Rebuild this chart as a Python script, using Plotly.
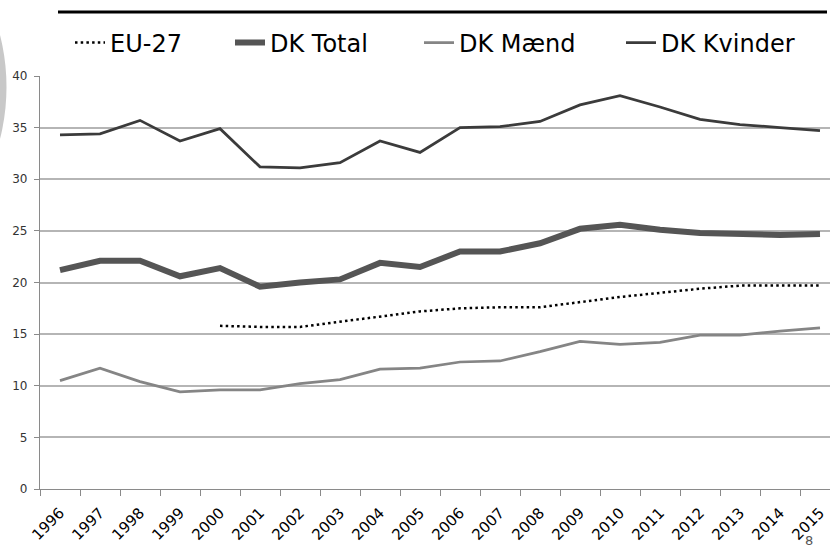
import plotly.graph_objects as go

years = [str(y) for y in range(1996, 2016)]
eu27 = [None, None, None, None, 15.8, 15.7, 15.7, 16.2, 16.7, 17.2, 17.5, 17.6, 17.6, 18.1, 18.6, 19.0, 19.4, 19.7, 19.7, 19.7]
dk_total = [21.2, 22.1, 22.1, 20.6, 21.4, 19.6, 20.0, 20.3, 21.9, 21.5, 23.0, 23.0, 23.8, 25.2, 25.6, 25.1, 24.8, 24.7, 24.6, 24.7]
dk_maend = [10.5, 11.7, 10.4, 9.4, 9.6, 9.6, 10.2, 10.6, 11.6, 11.7, 12.3, 12.4, 13.3, 14.3, 14.0, 14.2, 14.9, 14.9, 15.3, 15.6]
dk_kvinder = [34.3, 34.4, 35.7, 33.7, 34.9, 31.2, 31.1, 31.6, 33.7, 32.6, 35.0, 35.1, 35.6, 37.2, 38.1, 37.0, 35.8, 35.3, 35.0, 34.7]
y_ticks = [0, 5, 10, 15, 20, 25, 30, 35, 40]

FONT = "DejaVu Sans"
W, H = 830, 547
ML, MR, MT, MB = 40, 0, 76, 58
PW = W - ML - MR
PH = H - MT - MB


def px_x(p):
    return (p - ML) / PW


def px_y(p):
    return (H - MB - p) / PH


fig = go.Figure()
fig.add_trace(go.Scatter(x=years, y=eu27, name="EU-27", mode="lines",
                         line=dict(color="#000000", width=2.5, dash="2.5px,3.2px"),
                         legend="legend", showlegend=True))
fig.add_trace(go.Scatter(x=years, y=dk_total, name="DK Total", mode="lines",
                         line=dict(color="#555555", width=6),
                         legend="legend2", showlegend=True))
fig.add_trace(go.Scatter(x=years, y=dk_maend, name="DK Mænd", mode="lines",
                         line=dict(color="#858585", width=2.75),
                         legend="legend3", showlegend=True))
fig.add_trace(go.Scatter(x=years, y=dk_kvinder, name="DK Kvinder", mode="lines",
                         line=dict(color="#3b3b3b", width=2.75),
                         legend="legend4", showlegend=True))

leg_common = dict(orientation="h", yanchor="middle", xanchor="left",
                  font=dict(family=FONT, size=24, color="#000000"),
                  bgcolor="rgba(0,0,0,0)", borderwidth=0, visible=True)
ly = px_y(43)
fig.update_layout(
    showlegend=True,
    legend=dict(x=px_x(70), y=ly, **leg_common),
    legend2=dict(x=px_x(230), y=ly, **leg_common),
    legend3=dict(x=px_x(419), y=ly, **leg_common),
    legend4=dict(x=px_x(621), y=ly, **leg_common),
)

fig.update_xaxes(
    type="category", categoryorder="array", categoryarray=years,
    range=[-0.5, 19.25], tickson="boundaries", automargin=False,
    ticks="outside", ticklen=6, tickcolor="#8a8a8a", tickwidth=1.3,
    showline=True, linecolor="#8a8a8a", linewidth=1.3,
    showgrid=False, tickangle=-45,
    tickfont=dict(family=FONT, size=15, color="#000000"),
    ticklabelstandoff=8,
)
fig.update_yaxes(
    range=[0, 40], tickvals=y_ticks, automargin=False,
    ticks="outside", ticklen=5, tickcolor="#8a8a8a", tickwidth=1.3,
    showline=True, linecolor="#8a8a8a", linewidth=1.3,
    showgrid=True, gridcolor="#b5b5b5", gridwidth=1.5, zeroline=False,
    tickfont=dict(family=FONT, size=12, color="#333333"),
    ticklabelstandoff=4,
)

shapes = [
    # decorative circle at the left edge of the slide
    dict(type="circle", xref="paper", yref="paper",
         x0=px_x(-415.5), x1=px_x(6.5), y0=px_y(298), y1=px_y(-124),
         fillcolor="#c8c8c8", line=dict(width=0), layer="below"),
    # top rule
    dict(type="line", xref="paper", yref="paper",
         x0=px_x(58), x1=px_x(827), y0=px_y(12), y1=px_y(12),
         line=dict(color="#000000", width=3)),
]

fig.update_layout(
    width=W, height=H,
    margin=dict(l=ML, r=MR, t=MT, b=MB, pad=0, autoexpand=False),
    paper_bgcolor="#ffffff", plot_bgcolor="#ffffff",
    font=dict(family=FONT),
    shapes=shapes,
    hovermode=False,
    annotations=[dict(text="8", xref="paper", yref="paper",
                      x=px_x(809), y=px_y(531), xanchor="center", yanchor="top",
                      showarrow=False, font=dict(family=FONT, size=13, color="#555555"))],
)

fig.write_html("out.html")
